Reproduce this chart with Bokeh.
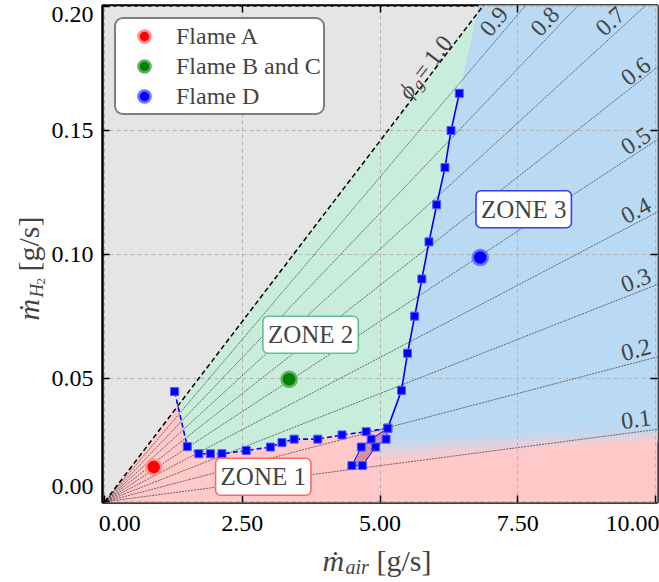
import math
from bokeh.plotting import figure
from bokeh.layouts import column, row
from bokeh.models import Range1d, LinearAxis, FixedTicker, PrintfTickFormatter, Label, Legend, LegendItem
from bokeh.embed import file_html
from bokeh.resources import INLINE

# ---------------- data ----------------
AFR_STOICH = 34.3          # stoichiometric air / H2 mass ratio (phi_g = 1)
x_ticks = [0.0, 2.5, 5.0, 7.5, 10.0]
y_ticks = [0.0, 0.05, 0.10, 0.15, 0.20]
x_inner_ticks = [2.5, 5.0, 7.5]
y_inner_ticks = [0.05, 0.10, 0.15]

phi_lines = [0.1, 0.2, 0.3, 0.4, 0.5, 0.6, 0.7, 0.8, 0.9]
phi_right_labels = [0.1, 0.2, 0.3, 0.4, 0.5, 0.6]
phi_top_labels = [0.7, 0.8, 0.9]

# zone 1 / zone 2 boundary (dashed)
b12_air = [1.27, 1.50, 1.71, 1.92, 2.13, 2.57, 3.01, 3.22, 3.44, 3.87, 4.31, 4.75, 5.14]
b12_h2 = [0.0445, 0.0223, 0.0194, 0.0194, 0.0194, 0.0207, 0.0221, 0.0239, 0.0253, 0.0253, 0.0270, 0.0283, 0.0297]

# zone 2 / zone 3 boundary (solid)
b23_air = [5.14, 5.39, 5.50, 5.63, 5.76, 5.89, 6.03, 6.18, 6.29, 6.44]
b23_h2 = [0.0297, 0.045, 0.060, 0.075, 0.090, 0.105, 0.120, 0.135, 0.150, 0.165]

# hatched transition band (zone 1 / zone 3)
hl_air = [4.49, 4.66, 4.84, 5.14]
hl_h2 = [0.0146, 0.0221, 0.0253, 0.0297]
hr_air = [4.68, 4.92, 5.11]
hr_h2 = [0.0146, 0.0221, 0.0253]

# soft zone 1 / zone 3 border
b13_air = [4.95, 10.5]
b13_h2 = [0.0205, 0.0278]
b13_halfwidth = [0.0046, 0.0027]

flame_names = ["Flame A", "Flame B and C", "Flame D"]
flame_air = [0.89, 3.35, 6.82]
flame_h2 = [0.0140, 0.0495, 0.0987]
flame_colors = ["#ff0000", "#008000", "#0000ff"]
flame_edges = ["#ff9090", "#5fb05f", "#7070ff"]

zone_texts = ["ZONE 1", "ZONE 2", "ZONE 3"]
zone_air = [2.88, 3.74, 7.61]
zone_h2 = [0.0101, 0.0675, 0.1182]
zone_edges = ["#f46a6a", "#5cc48c", "#3a3af5"]

# ---------------- style / layout ----------------
SERIF = "Liberation Serif"
GRAY, RED, GREEN, BLUE = "#e5e5e5", "#ffc9c9", "#c9eddb", "#badaf4"
XR = (-0.04, 10.04)
YR = (-0.0003, 0.2005)
TOTAL_W, TOTAL_H = 659, 582
LW = 48                    # y-title strip width
HM = 540                   # main figure height
W, H = TOTAL_W - LW, HM
MBL, MBR, MBT, MBB = 101 - LW, 2, 5, HM - 502
FW, FH = W - MBL - MBR, H - MBT - MBB
SX = FW / (XR[1] - XR[0])
SY = FH / (YR[1] - YR[0])

p = figure(width=W, height=H, x_range=Range1d(*XR), y_range=Range1d(*YR),
           output_backend="svg", toolbar_location=None,
           min_border_left=MBL, min_border_right=MBR, min_border_top=MBT, min_border_bottom=MBB,
           background_fill_color=GRAY, border_fill_color="white")
p.outline_line_color = "black"
p.outline_line_width = 2.5

def style_axis(ax, labels=True):
    ax.axis_line_color = None
    ax.major_tick_in = 7
    ax.major_tick_out = 0
    ax.major_tick_line_width = 1.5
    ax.major_tick_line_color = "black"
    ax.minor_tick_line_color = None
    if labels:
        ax.major_label_text_font = SERIF
        ax.major_label_text_font_size = "24px"
        ax.major_label_text_color = "black"
    else:
        ax.major_label_text_font_size = "0px"
        ax.major_label_text_color = None
        ax.major_label_standoff = 0

NB = "\u00a0"
p.xaxis.ticker = FixedTicker(ticks=x_ticks)
p.yaxis.ticker = FixedTicker(ticks=y_ticks)
p.xaxis.formatter = PrintfTickFormatter(format="%.2f")
p.yaxis.formatter = PrintfTickFormatter(format="%.2f")
p.xaxis.major_label_overrides = {x_ticks[0]: NB * 5 + "%.2f" % x_ticks[0]}
p.yaxis.major_label_overrides = {y_ticks[0]: "%.2f\n" % y_ticks[0]}
style_axis(p.xaxis[0]); style_axis(p.yaxis[0])
p.xaxis.major_label_standoff = 7
p.yaxis.major_label_standoff = 9
top = LinearAxis(ticker=FixedTicker(ticks=x_inner_ticks)); style_axis(top, False)
right = LinearAxis(ticker=FixedTicker(ticks=y_inner_ticks)); style_axis(right, False)
p.add_layout(top, "above")
p.add_layout(right, "right")

p.xgrid.ticker = FixedTicker(ticks=x_ticks)
p.ygrid.ticker = FixedTicker(ticks=y_ticks)
for g in (p.xgrid[0], p.ygrid[0]):
    g.grid_line_color = "#b4b4b4"
    g.grid_line_dash = "4 3"
    g.grid_line_width = 1

# ---------------- zone fills (level image, below grid) ----------------
YTOP = 0.21
XRIGHT = 10.5
p.patch([0, YTOP * AFR_STOICH, XRIGHT, XRIGHT, 0], [0, YTOP, YTOP, -0.01, -0.01],
        fill_color=RED, line_color=None, level="image")

# green zone
x0, y0, x1, y1 = b12_air[0], b12_h2[0], b12_air[1], b12_h2[1]
t = (y0 - x0 / AFR_STOICH) / ((x1 - x0) / AFR_STOICH - (y1 - y0))
gx0, gy0 = x0 + t * (x1 - x0), y0 + t * (y1 - y0)
slope = (b23_air[-1] - b23_air[-2]) / (b23_h2[-1] - b23_h2[-2])
xtop = b23_air[-1] + (YTOP - b23_h2[-1]) * slope
gx = [gx0] + b12_air[1:] + b23_air[1:] + [xtop, YTOP * AFR_STOICH]
gy = [gy0] + b12_h2[1:] + b23_h2[1:] + [YTOP, YTOP]
p.patch(gx, gy, fill_color=GREEN, line_color=None, level="image")

# blue zone with soft lower border
def lerp(x, xs, ys):
    return ys[0] + (x - xs[0]) * (ys[1] - ys[0]) / (xs[1] - xs[0])
def L(x):
    return lerp(x, b13_air, b13_h2)
def HWf(x):
    return lerp(x, b13_air, b13_halfwidth)
bx = b23_air + [xtop, XRIGHT, XRIGHT, hr_air[-1]]
by = b23_h2 + [YTOP, YTOP, L(XRIGHT) + HWf(XRIGHT), L(hr_air[-1]) + HWf(hr_air[-1])]
p.patch(bx, by, fill_color=BLUE, line_color=None, level="image")

def hex2rgb(h):
    return [int(h[i:i + 2], 16) for i in (1, 3, 5)]
cb, cr = hex2rgb(BLUE), hex2rgb(RED)
N = 14
xa, xb = b13_air[0], XRIGHT
sxs, sys_, cols = [], [], []
for i in range(N):
    f1, f2 = i / N, (i + 1) / N
    f = (i + 0.5) / N
    c = [round(cb[k] + (cr[k] - cb[k]) * f) for k in range(3)]
    cols.append("#%02x%02x%02x" % tuple(c))
    sxs.append([xa, xb, xb, xa])
    sys_.append([L(xa) + HWf(xa) * (1 - 2 * f1), L(xb) + HWf(xb) * (1 - 2 * f1),
                 L(xb) + HWf(xb) * (1 - 2 * f2) - 0.0003, L(xa) + HWf(xa) * (1 - 2 * f2) - 0.0003])
p.patches(sxs, sys_, fill_color=cols, line_color=None, level="image")

# ---------------- equivalence-ratio lines ----------------
p.multi_line([[0, XRIGHT] for _ in phi_lines], [[0, ph * XRIGHT / AFR_STOICH] for ph in phi_lines],
             line_color="#222222", line_width=0.7, line_dash="2 1", line_alpha=0.9)
p.line([0, YTOP * AFR_STOICH], [0, YTOP], line_color="black", line_width=1.5, line_dash="5 3")

# ---------------- measured boundaries ----------------
p.patch(hl_air + hr_air[::-1], hl_h2 + hr_h2[::-1], fill_color="#9db5f0",
        hatch_pattern="/", hatch_color="#f07a7a", hatch_scale=5, hatch_weight=1.5,
        line_color="#0000ff", line_width=1)
p.line(b12_air, b12_h2, line_color="#0000ff", line_width=1.6, line_dash="5 3")
p.line(b23_air, b23_h2, line_color="#0000ff", line_width=1.6)
sq = dict(marker="square", size=8, fill_color="#0000ff", line_color="#5a5aff", line_width=1)
p.scatter(b12_air, b12_h2, **sq)
p.scatter(b23_air, b23_h2, **sq)
p.scatter(hl_air, hl_h2, **sq)
p.scatter(hr_air, hr_h2, **sq)

# ---------------- flames ----------------
items = []
for n, xv, yv, c, e in zip(flame_names, flame_air, flame_h2, flame_colors, flame_edges):
    r = p.scatter([xv], [yv], size=15, fill_color=c, line_color=e, line_width=2.5)
    items.append(LegendItem(label=n, renderers=[r]))

leg_kw = dict(items=items, location="top_left", margin=12, padding=2, spacing=0,
              glyph_width=52, glyph_height=30, label_standoff=6, label_height=28,
              label_text_font=SERIF, label_text_font_size="24px",
              border_line_color="black", border_line_width=2,
              background_fill_color="white", background_fill_alpha=1.0)
if "border_radius" in Legend.properties():
    leg_kw["border_radius"] = 9
p.add_layout(Legend(**leg_kw))

# ---------------- zone labels ----------------
has_pad = "padding" in Label.properties()
has_rad = "border_radius" in Label.properties()
for tx, xv, yv, ec in zip(zone_texts, zone_air, zone_h2, zone_edges):
    kw = dict(x=xv, y=yv, text=tx, text_font=SERIF, text_font_size="25px",
              text_align="center", text_baseline="middle",
              background_fill_color="white", border_line_color=ec, border_line_width=1.6)
    if has_pad:
        kw["padding"] = 5
    if has_rad:
        kw["border_radius"] = 5
    p.add_layout(Label(**kw))

# ---------------- phi labels ----------------
ratio = SY / SX / AFR_STOICH
for ph in phi_right_labels:
    xv = 9.65
    p.add_layout(Label(x=xv, y=ph * xv / AFR_STOICH + 0.0050, text="%.1f" % ph,
                       angle=math.atan(ph * ratio), text_font=SERIF, text_font_size="24px",
                       text_align="center", text_baseline="middle"))
for ph in phi_top_labels:
    yv = 0.194
    p.add_layout(Label(x=yv * AFR_STOICH / ph - 0.32, y=yv, text="%.1f" % ph,
                       angle=math.atan(ph * ratio), text_font=SERIF, text_font_size="24px",
                       text_align="center", text_baseline="middle"))

a1 = math.atan(ratio)
ca, sa = math.cos(a1), math.sin(a1)
xa1 = 5.55
perp = 9
pieces = [("\u03d5", 0, 0, "24px", "italic"), ("g", 14, -5, "17px", "italic"),
          ("=\u20091.0", 24, 0, "24px", "normal")]
for tx, along, down, fs, st in pieces:
    d = perp + down
    p.add_layout(Label(x=xa1, y=xa1 / AFR_STOICH, text=tx, angle=a1,
                       x_offset=along * ca - d * sa, y_offset=along * sa + d * ca,
                       text_font=SERIF, text_font_size=fs, text_font_style=st,
                       text_align="left", text_baseline="alphabetic"))

# ---------------- axis titles (separate text strips) ----------------
def text_fig(w, h):
    f = figure(width=w, height=h, x_range=Range1d(0, 1), y_range=Range1d(0, 1),
               output_backend="svg", toolbar_location=None,
               x_axis_location=None, y_axis_location=None, min_border=0)
    f.outline_line_color = None
    f.grid.visible = False
    return f

ylab = text_fig(LW, HM)
# (text, position along the title, centre across it, size, style)
yl = [("\u1e41", 0, 28, "30px", "italic"), ("H", 23, 36, "19px", "italic"),
      ("2", 36, 40, "13px", "normal"), ("[g/s]", 49, 28, "30px", "normal")]
for tx, dy, xc, fs, st in yl:
    ylab.add_layout(Label(x=xc, y=182 + dy, x_units="screen", y_units="screen", text=tx,
                          angle=math.pi / 2, text_font=SERIF, text_font_size=fs, text_font_style=st,
                          text_align="left", text_baseline="middle"))

XH = TOTAL_H - HM
xlab = text_fig(TOTAL_W, XH)
xl = [("\u1e41", 0, 0, "30px", "italic"), ("air", 23, -6, "20px", "italic"),
      ("[g/s]", 54, 0, "30px", "normal")]
for tx, dx, dy, fs, st in xl:
    xlab.add_layout(Label(x=322 + dx, y=22 + dy, x_units="screen", y_units="screen", text=tx,
                          text_font=SERIF, text_font_size=fs, text_font_style=st,
                          text_align="left", text_baseline="alphabetic"))

layout = column(row(ylab, p, spacing=0), xlab, spacing=0)
open("out.html", "w").write(file_html(layout, INLINE))
